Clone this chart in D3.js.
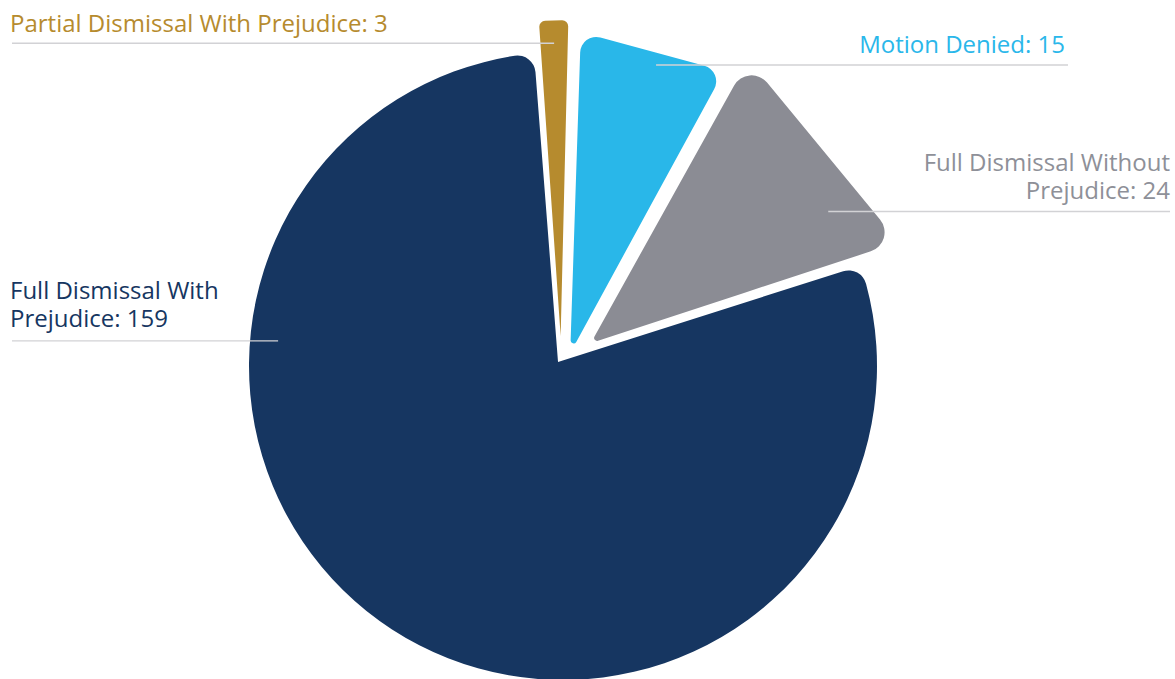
<!DOCTYPE html>
<html>
<head>
<meta charset="utf-8">
<script src="https://cdn.jsdelivr.net/npm/d3@7"></script>
<style>
  html, body { margin: 0; padding: 0; background: #ffffff; }
  svg { display: block; }
  text { font-family: "Open Sans", "Noto Sans", sans-serif; }
</style>
</head>
<body>
<svg id="chart" width="1175" height="679"></svg>
<script>
// ---- data ----
const categories = [
  "Partial Dismissal With Prejudice",
  "Motion Denied",
  "Full Dismissal Without Prejudice",
  "Full Dismissal With Prejudice"
];
const counts = [3, 15, 24, 159];
const colors = ["#b68b2e", "#29b7e9", "#8b8c94", "#163661"];
const labelColors = ["#b68b2e", "#2ab7ea", "#8e9098", "#163661"];
// number of words on the first label line (null = single line)
const labelBreaks = [null, null, 3, 3];

// ---- layout ----
const deg = Math.PI / 180;
const cx = 563, cy = 366;                 // pie centre
// slice tip shift from the centre: [distance, direction in degrees] (null = slice bisector)
const shift = [[30, -4.5], [14.9, 29], [36, null], [6.4, 309]];
const radius = [316, 321, 324, 314];
const cornerR = [6, 16, 20, 18];          // rounding of the outer corners
const tipR = [0, 3, 3, 0];                // rounding of the inner tip
const leaderAngle = [null, 16.6, 61, 274.3]; // degrees; null = slice bisector
const leaderFrac = [0.927, 0.936, 0.838, 0.894];
const labelSide = ["left", "right", "right", "left"];
const labelEdge = [10, 1065, 1170, 10];
const lineEdge = [12, 1068, 1170, 12];
const lineGap = [11.6, 11.7, 12.5, 14.3];
const lineHeight = 27.6;

const svg = d3.select("#chart");

const pie = d3.pie()
  .sort(null)
  .value(d => d)
  .startAngle(-4.2 * deg)
  .endAngle(355.8 * deg)
  .padAngle(0.5 * deg);

const arcs = pie(counts);

const polar = (a, r) => [Math.sin(a) * r, -Math.cos(a) * r];

// polygon with rounded vertices
function roundedPolygon(pts, rs) {
  const p = d3.path();
  const n = pts.length;
  const a = pts[n - 1], b = pts[0];
  p.moveTo((a[0] + b[0]) / 2, (a[1] + b[1]) / 2);
  for (let i = 0; i < n; i++) {
    const cur = pts[i], nxt = pts[(i + 1) % n];
    p.arcTo(cur[0], cur[1], nxt[0], nxt[1], rs[i]);
  }
  p.closePath();
  return p.toString();
}

// sector whose tip P may sit away from the centre Q of its outer arc,
// with rounded outer corners of radius rc
function roundedSector(P, Q, R, th0, th1, rc) {
  const u0 = [Math.sin(th0), -Math.cos(th0)], n0 = [Math.cos(th0), Math.sin(th0)];
  const u1 = [Math.sin(th1), -Math.cos(th1)], n1 = [-Math.cos(th1), -Math.sin(th1)];
  function corner(u, n) {
    const D = [P[0] + rc * n[0] - Q[0], P[1] + rc * n[1] - Q[1]];
    const du = D[0] * u[0] + D[1] * u[1];
    const dd = D[0] * D[0] + D[1] * D[1];
    const t = -du + Math.sqrt(du * du - dd + (R - rc) * (R - rc));
    const K = [P[0] + t * u[0] + rc * n[0], P[1] + t * u[1] + rc * n[1]];
    const TL = [P[0] + t * u[0], P[1] + t * u[1]];
    const s = R / (R - rc);
    const TC = [Q[0] + (K[0] - Q[0]) * s, Q[1] + (K[1] - Q[1]) * s];
    return { K, TL, TC };
  }
  const c0 = corner(u0, n0), c1 = corner(u1, n1);
  const ang = (c, q) => Math.atan2(q[1] - c[1], q[0] - c[0]);
  const p = d3.path();
  p.moveTo(P[0], P[1]);
  p.lineTo(c0.TL[0], c0.TL[1]);
  p.arc(c0.K[0], c0.K[1], rc, ang(c0.K, c0.TL), ang(c0.K, c0.TC), false);
  p.arc(Q[0], Q[1], R, ang(Q, c0.TC), ang(Q, c1.TC), false);
  p.arc(c1.K[0], c1.K[1], rc, ang(c1.K, c1.TC), ang(c1.K, c1.TL), false);
  p.closePath();
  return p.toString();
}

const g = svg.append("g");
const anchors = [];

arcs.forEach((d, i) => {
  const a0 = d.startAngle + d.padAngle / 2;
  const a1 = d.endAngle - d.padAngle / 2;
  const mid = (a0 + a1) / 2;
  const sa = shift[i][1] == null ? mid : shift[i][1] * deg;
  const [ox, oy] = polar(sa, shift[i][0]);
  const P = [cx + ox, cy + oy];
  const R = radius[i];

  let path;
  if (a1 - a0 < Math.PI / 2) {
    // narrow slices: rounded wedge with a flat outer edge
    const p1 = polar(a0, R), p2 = polar(a1, R);
    path = roundedPolygon(
      [P, [P[0] + p1[0], P[1] + p1[1]], [P[0] + p2[0], P[1] + p2[1]]],
      [tipR[i], cornerR[i], cornerR[i]]
    );
  } else {
    path = roundedSector(P, [cx, cy], R, a0, a1, cornerR[i]);
  }
  g.append("path").attr("d", path).attr("fill", colors[i]);

  const la = leaderAngle[i] == null ? mid : leaderAngle[i] * deg;
  const [lx, ly] = polar(la, R * leaderFrac[i]);
  anchors.push([P[0] + lx, P[1] + ly]);
});

// ---- leader lines and labels ----
const lab = svg.append("g");
arcs.forEach((d, i) => {
  const [ax, ay] = anchors[i];
  lab.append("line")
    .attr("x1", ax).attr("y1", ay)
    .attr("x2", lineEdge[i]).attr("y2", ay)
    .attr("stroke", "#d2d2d5")
    .attr("stroke-width", 1.4);

  const full = `${categories[i]}: ${counts[i]}`;
  let lines = [full];
  if (labelBreaks[i] != null) {
    const words = full.split(" ");
    lines = [words.slice(0, labelBreaks[i]).join(" "), words.slice(labelBreaks[i]).join(" ")];
  }
  const lastBase = ay - lineGap[i];
  lines.forEach((s, k) => {
    lab.append("text")
      .attr("x", labelEdge[i])
      .attr("y", lastBase - (lines.length - 1 - k) * lineHeight)
      .attr("text-anchor", labelSide[i] === "left" ? "start" : "end")
      .attr("fill", labelColors[i])
      .attr("font-size", 24)
      .text(s);
  });
});
</script>
</body>
</html>
